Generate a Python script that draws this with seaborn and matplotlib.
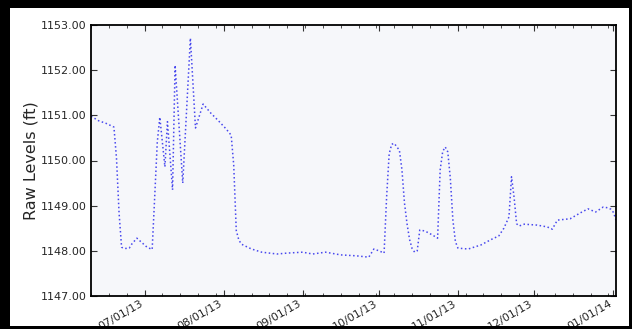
import matplotlib
matplotlib.use('Agg')
import pandas as pd
import seaborn as sns
import matplotlib.pyplot as plt
import matplotlib.dates as mdates
from matplotlib.ticker import FormatStrFormatter
from matplotlib.patches import Rectangle

# Raw level readings (ft)
dates = [
    '2013-06-10', '2013-06-13', '2013-06-16', '2013-06-19', '2013-06-20', '2013-06-21',
    '2013-06-22', '2013-06-23', '2013-06-25', '2013-06-26', '2013-06-28', '2013-06-30',
    '2013-07-02', '2013-07-04', '2013-07-05', '2013-07-06', '2013-07-07', '2013-07-09',
    '2013-07-10', '2013-07-12', '2013-07-13', '2013-07-16', '2013-07-19', '2013-07-21',
    '2013-07-24', '2013-07-27', '2013-07-30', '2013-08-02', '2013-08-04', '2013-08-05',
    '2013-08-06', '2013-08-07', '2013-08-08', '2013-08-09', '2013-08-12', '2013-08-16',
    '2013-08-19', '2013-08-22', '2013-08-26', '2013-09-01', '2013-09-05', '2013-09-10',
    '2013-09-16', '2013-09-22', '2013-09-27', '2013-09-29', '2013-10-01', '2013-10-03',
    '2013-10-04', '2013-10-05', '2013-10-06', '2013-10-07', '2013-10-08', '2013-10-09',
    '2013-10-10', '2013-10-11', '2013-10-12', '2013-10-13', '2013-10-14', '2013-10-15',
    '2013-10-16', '2013-10-17', '2013-10-19', '2013-10-21', '2013-10-22', '2013-10-24',
    '2013-10-25', '2013-10-26', '2013-10-27', '2013-10-28', '2013-10-29', '2013-10-30',
    '2013-10-31', '2013-11-01', '2013-11-05', '2013-11-10', '2013-11-14', '2013-11-17',
    '2013-11-19', '2013-11-21', '2013-11-22', '2013-11-23', '2013-11-24', '2013-11-25',
    '2013-11-27', '2013-12-02', '2013-12-06', '2013-12-08', '2013-12-10', '2013-12-15',
    '2013-12-19', '2013-12-22', '2013-12-25', '2013-12-28', '2013-12-30', '2013-12-31',
    '2014-01-01', '2014-01-02',
]
levels = [
    1150.98, 1150.88, 1150.82, 1150.74, 1150.05, 1148.85,
    1148.08, 1148.05, 1148.06, 1148.15, 1148.28, 1148.18,
    1148.08, 1148.03, 1149.20, 1150.40, 1150.96, 1149.86,
    1150.86, 1149.35, 1152.11, 1149.50, 1152.71, 1150.72,
    1151.25, 1151.05, 1150.88, 1150.70, 1150.56, 1149.90,
    1148.45, 1148.24, 1148.15, 1148.12, 1148.04, 1147.97,
    1147.95, 1147.93, 1147.95, 1147.97, 1147.93, 1147.97,
    1147.91, 1147.89, 1147.86, 1148.04, 1148.00, 1147.95,
    1149.20, 1150.15, 1150.36, 1150.38, 1150.30, 1150.23,
    1149.80, 1149.06, 1148.60, 1148.25, 1148.05, 1147.97,
    1148.00, 1148.46, 1148.44, 1148.38, 1148.35, 1148.28,
    1149.79, 1150.20, 1150.30, 1150.19, 1149.60, 1148.68,
    1148.20, 1148.06, 1148.04, 1148.13, 1148.25, 1148.33,
    1148.50, 1148.75, 1149.64, 1149.19, 1148.60, 1148.55,
    1148.59, 1148.57, 1148.53, 1148.48, 1148.68, 1148.71,
    1148.84, 1148.93, 1148.86, 1148.97, 1148.95, 1148.92,
    1148.85, 1148.68,
]

sns.set_style('ticks')
plt.rcParams['font.family'] = ['DejaVu Sans']
plt.rcParams['xtick.direction'] = 'in'
plt.rcParams['ytick.direction'] = 'in'

fig = plt.figure(figsize=(6.32, 3.29), dpi=100)
fig.patch.set_facecolor('white')
ax = fig.add_axes([91 / 632, 33 / 329, 525 / 632, 271 / 329])
ax.set_facecolor('#f6f7fa')

sns.lineplot(x=pd.to_datetime(dates), y=levels, ax=ax, color='#4848ee',
             linestyle=':', linewidth=1.1)

ax.set_xlim(pd.Timestamp('2013-06-10'), pd.Timestamp('2014-01-02'))
ax.set_ylim(1147, 1153)
ax.yaxis.set_major_formatter(FormatStrFormatter('%.2f'))
ax.xaxis.set_major_locator(mdates.MonthLocator())
ax.xaxis.set_minor_locator(mdates.WeekdayLocator(byweekday=mdates.MO))
ax.xaxis.set_major_formatter(mdates.DateFormatter('%m/%d/%y'))

ax.tick_params(which='both', top=True, right=True, direction='in', color='#333333')
ax.tick_params(which='major', length=4, width=0.8)
ax.tick_params(which='minor', length=2, width=0.6)
ax.tick_params(axis='y', labelsize=8, pad=3)
ax.tick_params(axis='x', labelsize=8, pad=2)
for lbl in ax.get_xticklabels():
    lbl.set_rotation(30)
    lbl.set_ha('right')
for sp in ax.spines.values():
    sp.set_linewidth(1.3)
    sp.set_color('black')

ax.set_xlabel('')
ax.set_ylabel('Raw Levels (ft)', fontsize=11.5, labelpad=2)

# black screenshot frame around the figure
W, H = 632, 329
for x0, y0, w, h in [(0, 0, 10, H), (629, 0, 3, H), (0, H - 8, W, 8), (0, 0, W, 3)]:
    fig.add_artist(Rectangle((x0 / W, y0 / H), w / W, h / H, transform=fig.transFigure,
                             facecolor='black', edgecolor='none', zorder=10))

fig.savefig('out.png', dpi=100)
